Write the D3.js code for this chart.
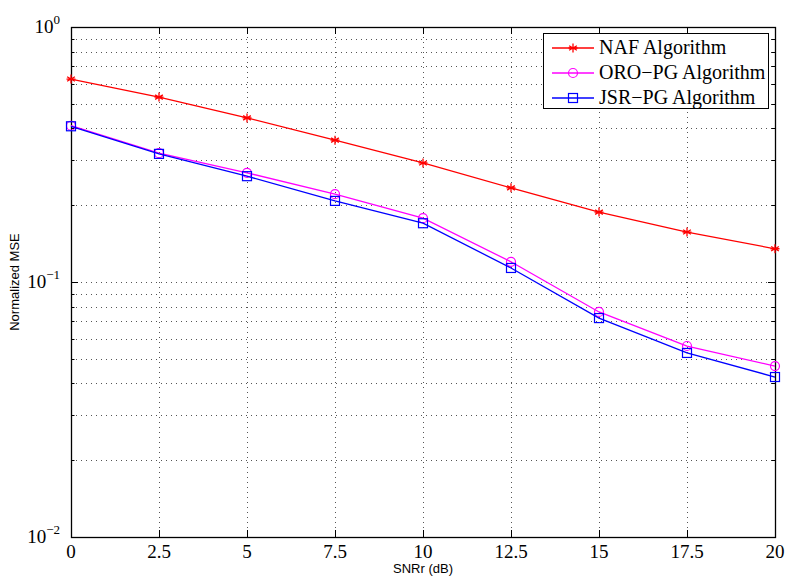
<!DOCTYPE html>
<html>
<head>
<meta charset="utf-8">
<script src="https://cdn.jsdelivr.net/npm/d3@7"></script>
<style>
  body { margin: 0; background: #fff; }
  .tick-label { font-family: "Liberation Serif", "Times New Roman", serif; font-size: 19px; fill: #000; }
  .axis-title { font-family: "Liberation Sans", Arial, sans-serif; font-size: 13px; fill: #000; }
  .legend-label { font-family: "Liberation Serif", "Times New Roman", serif; font-size: 20px; fill: #000; }
</style>
</head>
<body>
<svg id="chart"></svg>
<script>
// SNRr values (dB)
const snr = [0, 2.5, 5, 7.5, 10, 12.5, 15, 17.5, 20];
const xTicks = [0, 2.5, 5, 7.5, 10, 12.5, 15, 17.5, 20];

// Normalized MSE per algorithm
const nafMse = [0.625, 0.531, 0.44, 0.36, 0.293, 0.234, 0.188, 0.157, 0.135];
const oroMse = [0.41, 0.32, 0.268, 0.221, 0.178, 0.12, 0.0763, 0.0561, 0.0468];
const jsrMse = [0.408, 0.318, 0.26, 0.208, 0.17, 0.1135, 0.0722, 0.0527, 0.0424];

const seriesNames = ['NAF Algorithm', 'ORO\u2212PG Algorithm', 'JSR\u2212PG Algorithm'];
const yExponents = [0, -1, -2];

const width = 786, height = 577;
const margin = {top: 27, right: 11, bottom: 40, left: 71};
const innerW = width - margin.left - margin.right;
const innerH = height - margin.top - margin.bottom;

const svg = d3.select('#chart').attr('width', width).attr('height', height);
const g = svg.append('g').attr('transform', `translate(${margin.left},${margin.top})`);

const x = d3.scaleLinear().domain([0, 20]).range([0, innerW]);
const y = d3.scaleLog().domain([0.01, 1]).range([innerH, 0]);

// grid values: majors + minors of each decade
const yGrid = [];
[0.01, 0.1].forEach(d => { for (let k = 1; k <= 9; k++) yGrid.push(d * k); });
yGrid.push(1);

// dotted grid
g.append('g').selectAll('line')
  .data(yGrid.filter(v => v > 0.01 && v < 1))
  .join('line')
  .attr('x1', 0).attr('x2', innerW)
  .attr('y1', d => Math.round(y(d)) + 0.5).attr('y2', d => Math.round(y(d)) + 0.5)
  .attr('stroke', '#555').attr('stroke-width', 1).attr('stroke-dasharray', '1,4');

g.append('g').selectAll('line')
  .data(xTicks.slice(1, -1))
  .join('line')
  .attr('x1', d => Math.round(x(d)) + 0.5).attr('x2', d => Math.round(x(d)) + 0.5)
  .attr('y1', 0).attr('y2', innerH)
  .attr('stroke', '#555').attr('stroke-width', 1).attr('stroke-dasharray', '1,4');

// tick marks inside on all sides
const ticks = g.append('g').attr('stroke', '#000').attr('stroke-width', 1);
yGrid.forEach(v => {
  const len = [0.01, 0.1, 1].includes(+v.toFixed(4)) ? 7 : 3.5;
  const yy = Math.round(y(v)) + 0.5;
  ticks.append('line').attr('x1', 0).attr('x2', len).attr('y1', yy).attr('y2', yy);
  ticks.append('line').attr('x1', innerW - len).attr('x2', innerW).attr('y1', yy).attr('y2', yy);
});
xTicks.forEach(v => {
  const xx = Math.round(x(v)) + 0.5;
  ticks.append('line').attr('x1', xx).attr('x2', xx).attr('y1', innerH).attr('y2', innerH - 7);
  ticks.append('line').attr('x1', xx).attr('x2', xx).attr('y1', 0).attr('y2', 7);
});

// box
g.append('rect').attr('x', 0.5).attr('y', 0.5).attr('width', innerW).attr('height', innerH)
  .attr('fill', 'none').attr('stroke', '#000').attr('stroke-width', 1.3);

// x tick labels
g.append('g').selectAll('text')
  .data(xTicks)
  .join('text')
  .attr('class', 'tick-label')
  .attr('x', d => x(d)).attr('y', innerH + 21)
  .attr('text-anchor', 'middle')
  .text(d => d);

// y tick labels 10^n
const yl = g.append('g').selectAll('text')
  .data(yExponents)
  .join('text')
  .attr('class', 'tick-label')
  .attr('x', -11).attr('y', d => y(Math.pow(10, d)) + 6)
  .attr('text-anchor', 'end');
yl.append('tspan').text('10');
yl.append('tspan').attr('dy', -9).attr('font-size', 13).text(d => d === 0 ? '0' : '\u2212' + (-d));

// axis titles
g.append('text').attr('class', 'axis-title')
  .attr('x', innerW / 2).attr('y', innerH + 36)
  .attr('text-anchor', 'middle').text('SNRr (dB)');
g.append('text').attr('class', 'axis-title')
  .attr('transform', `translate(${-52},${innerH / 2}) rotate(-90)`)
  .attr('text-anchor', 'middle').text('Normalized MSE');

// series
const series = [
  {name: seriesNames[0], values: nafMse, color: '#ff0000', marker: 'star'},
  {name: seriesNames[1], values: oroMse, color: '#ff00ff', marker: 'circle'},
  {name: seriesNames[2], values: jsrMse, color: '#0000ff', marker: 'square'}
];

const line = d3.line().x(d => x(d[0])).y(d => y(d[1]));

function drawMarker(sel, type, color) {
  if (type === 'circle') {
    sel.append('circle').attr('r', 4.5).attr('fill', 'none').attr('stroke', color).attr('stroke-width', 1.2);
  } else if (type === 'square') {
    sel.append('rect').attr('x', -4.5).attr('y', -4.5).attr('width', 9).attr('height', 9)
      .attr('fill', 'none').attr('stroke', color).attr('stroke-width', 1.2);
  } else {
    const r = 4.5;
    const p = [0, 60, 120].map(a => {
      const t = a * Math.PI / 180;
      return `M${-r * Math.sin(t)},${-r * Math.cos(t)}L${r * Math.sin(t)},${r * Math.cos(t)}`;
    }).join('') + `M${-r},0L${r},0`;
    sel.append('path').attr('d', p).attr('stroke', color).attr('stroke-width', 1.3).attr('fill', 'none');
  }
}

series.forEach(s => {
  const pts = snr.map((v, i) => [v, s.values[i]]);
  g.append('path').datum(pts).attr('d', line)
    .attr('fill', 'none').attr('stroke', s.color).attr('stroke-width', 1.3);
  g.append('g').selectAll('g')
    .data(pts)
    .join('g')
    .attr('transform', d => `translate(${x(d[0])},${y(d[1])})`)
    .each(function () { drawMarker(d3.select(this), s.marker, s.color); });
});

// legend
const legend = g.append('g').attr('transform', `translate(${543 - margin.left},${33 - margin.top})`);
legend.append('rect').attr('x', 0.5).attr('y', 0.5).attr('width', 225).attr('height', 75)
  .attr('fill', '#fff').attr('stroke', '#000').attr('stroke-width', 1);
series.forEach((s, i) => {
  const ly = 15 + i * 25;
  legend.append('line').attr('x1', 9).attr('x2', 51).attr('y1', ly).attr('y2', ly)
    .attr('stroke', s.color).attr('stroke-width', 1.3);
  const m = legend.append('g').attr('transform', `translate(30,${ly})`);
  drawMarker(m, s.marker, s.color);
  legend.append('text').attr('class', 'legend-label')
    .attr('x', 56).attr('y', ly + 6).text(s.name);
});
</script>
</body>
</html>
